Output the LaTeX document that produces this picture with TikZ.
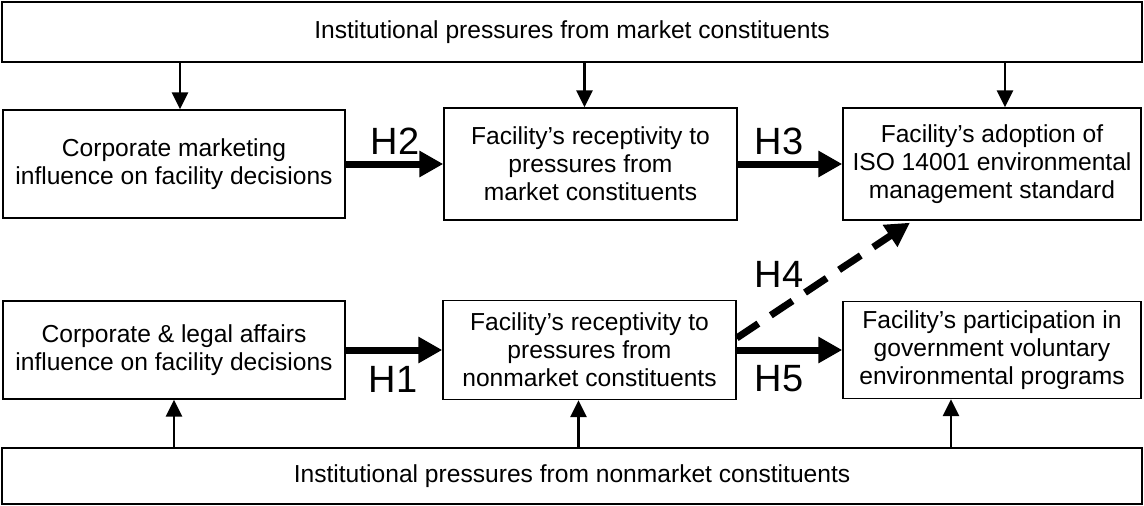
\documentclass[tikz,border=0pt]{standalone}
\usepackage{fontspec}
\setmainfont{Liberation Sans}
\usetikzlibrary{arrows.meta}
\begin{document}
\begin{tikzpicture}[x=1pt,y=-1pt,
  box/.style={draw,line width=1.4pt,inner sep=0pt,align=center,
    font=\fontsize{24.6}{28}\selectfont},
  thinarrow/.style={line width=2.8pt,-{Triangle[length=17pt,width=16pt]}},
  thickarrow/.style={line width=7pt,-{Triangle[length=24pt,width=25pt]}},
  dasharrow/.style={line width=7pt,dash pattern=on 26pt off 15pt,-{Triangle[length=24pt,width=25pt]}},
  hlabel/.style={font=\fontsize{38}{40}\selectfont,inner sep=0pt}]
\useasboundingbox (0,0) rectangle (1144,506);
\node[box,minimum width=1140pt,minimum height=60pt] (top) at (572,32) {Institutional pressures from market constituents};
\node[box,minimum width=342pt,minimum height=108pt] (cm) at (174,164) {Corporate marketing\\influence on facility decisions};
\node[box,minimum width=293pt,minimum height=112pt] (rm) at (590.5,164) {Facility’s receptivity to\\pressures from\\market constituents};
\node[box,minimum width=298pt,minimum height=112pt] (iso) at (992,164) {Facility’s adoption of\\ISO 14001 environmental\\management standard};
\node[box,minimum width=342pt,minimum height=98pt] (cl) at (174,350) {Corporate \& legal affairs\\influence on facility decisions};
\node[box,minimum width=293pt,minimum height=99pt] (rn) at (589.5,350) {Facility’s receptivity to\\pressures from\\nonmarket constituents};
\node[box,minimum width=298pt,minimum height=97pt] (gv) at (992,350) {Facility’s participation in\\government voluntary\\environmental programs};
\node[box,minimum width=1140pt,minimum height=56pt] (bot) at (572,476) {Institutional pressures from nonmarket constituents};
% top arrows
\draw[thinarrow] ([xshift=6pt]cm.north |- top.south) -- ([xshift=6pt]cm.north);
\draw[thinarrow] ([xshift=-6pt]rm.north |- top.south) -- ([xshift=-6pt]rm.north);
\draw[thinarrow] ([xshift=13pt]iso.north |- top.south) -- ([xshift=13pt]iso.north);
% bottom arrows
\draw[thinarrow] (cl.south |- bot.north) -- (cl.south);
\draw[thinarrow] ([xshift=-11pt]rn.south |- bot.north) -- ([xshift=-11pt]rn.south);
\draw[thinarrow] ([xshift=-41pt]gv.south |- bot.north) -- ([xshift=-41pt]gv.south);
% hypotheses
\draw[thickarrow] (cm.east) -- (rm.west);
\draw[thickarrow] (rm.east) -- (iso.west);
\draw[thickarrow] (cl.east) -- (rn.west);
\draw[thickarrow] (rn.east) -- (gv.west);
\draw[dasharrow] ([yshift=12pt]rn.east) -- ([xshift=-82pt,yshift=-2pt]iso.south);
\node[hlabel] (h2) at (395,141) {H2};
\node[hlabel] (h3) at (779,141) {H3};
\node[hlabel] (h1) at (393,379) {H1};
\node[hlabel] (h5) at (779,379) {H5};
\node[hlabel] (h4) at (779,274) {H4};
\end{tikzpicture}
\end{document}
